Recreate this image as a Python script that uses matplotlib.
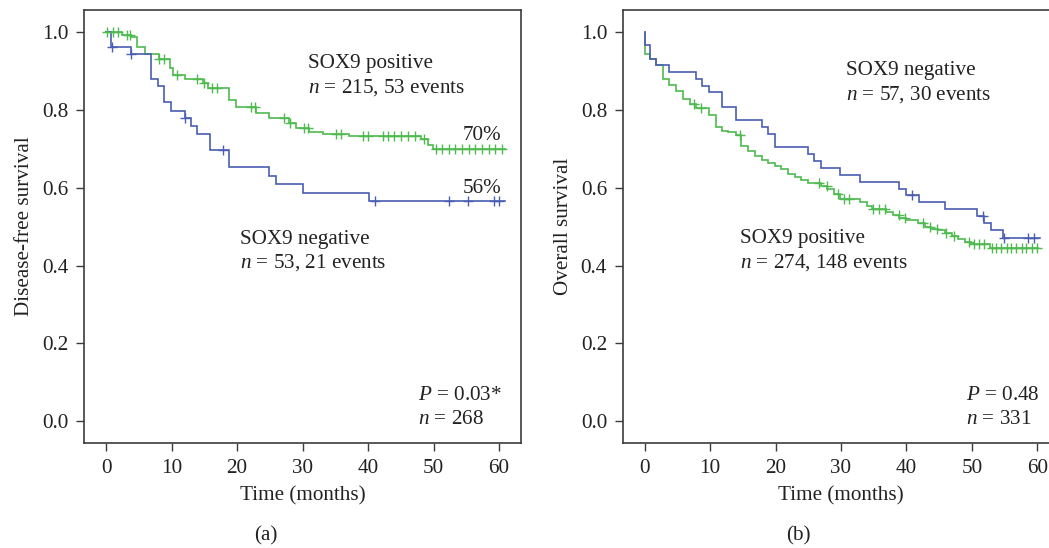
import numpy as np
import matplotlib
matplotlib.use("Agg")
import matplotlib.pyplot as plt

plt.rcParams['font.family'] = ['Liberation Serif', 'DejaVu Serif']
plt.rcParams['mathtext.fontset'] = 'custom'
plt.rcParams['mathtext.rm'] = 'Liberation Serif'
plt.rcParams['mathtext.it'] = 'Liberation Serif:italic'

# ---------------- data: panel (a) disease-free survival ----------------
dfs_neg_t = [0, 0.8, 3.8, 6.9, 7.9, 8.9, 9.9, 12.0, 13.0, 13.9, 15.9, 18.8, 24.9, 26.0, 30.0, 40.2]
dfs_neg_s = [1.0, 0.962, 0.944, 0.880, 0.861, 0.820, 0.797, 0.780, 0.759, 0.737, 0.696, 0.653, 0.630, 0.609, 0.587, 0.566]
dfs_neg_cens = [0.9, 3.8, 12.0, 17.9, 41.1, 52.3, 55.3, 59.3, 60.0]
dfs_neg_end = 60.9

dfs_pos_t = [0, 2.4, 3.8, 4.8, 5.9, 8.1, 9.7, 10.2, 12.0, 14.8, 15.5, 18.8, 19.9, 22.9, 24.9,
             27.9, 29.0, 31.0, 33.1, 37.1, 48.1, 49.1, 49.9]
dfs_pos_s = [1.0, 0.993, 0.987, 0.961, 0.944, 0.929, 0.906, 0.889, 0.880, 0.869, 0.855, 0.826, 0.807, 0.792, 0.780,
             0.766, 0.753, 0.742, 0.738, 0.732, 0.724, 0.709, 0.700]
dfs_pos_cens = [0.2, 1.0, 1.9, 3.2, 3.7, 8.1, 8.9, 10.9, 13.9, 14.9, 16.2, 16.9, 22.1, 22.8, 27.1, 28.1,
                30.2, 30.9, 35.1, 35.9, 39.2, 40.0, 42.3, 43.0, 44.0, 45.0, 46.1, 47.1, 48.6,
                50.3, 51.3, 52.3, 53.3, 54.4, 55.4, 56.4, 57.4, 58.4, 59.4, 60.5]
dfs_pos_end = 60.9

# ---------------- data: panel (b) overall survival ----------------
os_neg_t = [0, 0.05, 0.8, 1.8, 3.8, 7.9, 8.8, 9.8, 11.8, 13.9, 17.9, 18.9, 19.9, 25.0, 25.9, 26.9,
            29.8, 32.9, 38.9, 39.9, 41.9, 45.9, 50.7, 51.9, 52.9, 54.8]
os_neg_s = [1.0, 0.967, 0.931, 0.914, 0.896, 0.878, 0.862, 0.845, 0.808, 0.773, 0.756, 0.738, 0.704, 0.686, 0.668, 0.651,
            0.633, 0.615, 0.597, 0.581, 0.563, 0.545, 0.527, 0.508, 0.490, 0.471]
os_neg_cens = [40.9, 51.7, 54.9, 58.6, 59.5]
os_neg_end = 60.4

os_pos_t = [0, 0.05, 0.8, 1.8, 2.8, 3.8, 4.8, 5.8, 6.9, 7.9, 9.8, 10.9, 11.8, 12.8, 13.9, 14.8, 15.8, 16.8,
            17.9, 18.9, 19.9, 20.9, 21.9, 22.9, 23.9, 24.9, 26.9, 27.9, 28.9, 29.8, 32.9, 33.9, 34.7, 36.9,
            37.9, 38.9, 39.9, 41.8, 42.8, 43.8, 44.8, 45.9, 46.9, 47.9, 48.9, 49.8, 52.8]
os_pos_s = [1.0, 0.944, 0.931, 0.914, 0.880, 0.863, 0.849, 0.828, 0.814, 0.804, 0.787, 0.755, 0.746, 0.742, 0.734,
            0.708, 0.694, 0.681, 0.672, 0.663, 0.656, 0.648, 0.636, 0.627, 0.619, 0.613, 0.605, 0.596, 0.584, 0.572,
            0.563, 0.552, 0.544, 0.538, 0.531, 0.522, 0.517, 0.509, 0.499, 0.495, 0.490, 0.484, 0.477, 0.467,
            0.461, 0.455, 0.446]
os_pos_cens = [7.6, 8.6, 14.6, 26.7, 27.8, 29.6, 30.4, 31.2, 34.9, 35.8, 36.7, 38.8, 39.8, 42.6, 43.6, 44.6,
               46.0, 47.2, 49.5, 50.3, 51.1, 51.8, 53.0, 53.7, 54.5, 55.3, 56.0, 56.8, 57.6, 58.3, 59.1, 59.9]
os_pos_end = 60.1

x_ticks = [0, 10, 20, 30, 40, 50, 60]
y_ticks = [0.0, 0.2, 0.4, 0.6, 0.8, 1.0]

BLUE = '#4a5db3'
GREEN = '#4fba4f'
AX = '#3c3c3c'
TXT = '#222222'
FS = 15.2

W, H = 1049, 548
fig = plt.figure(figsize=(W / 100, H / 100), dpi=100)


def px_axes(x0, x1, y0, y1):
    return fig.add_axes([x0 / W, 1 - y1 / H, (x1 - x0) / W, (y1 - y0) / H])


def km(ax, t, s, cens, end, color):
    t = np.asarray(t, float)
    s = np.asarray(s, float)
    tt = np.append(t, end)
    ss = np.append(s, s[-1])
    ax.step(tt, ss, where='post', color=color, lw=1.2, solid_joinstyle='miter', zorder=3)
    c = np.asarray(cens, float)
    idx = np.searchsorted(t, c, side='right') - 1
    ax.plot(c, s[idx], ls='none', marker='+', ms=7, mew=1.0, color=color, zorder=4)


def style(ax, ylabel):
    ax.set_xlim(-3.3, 63.3)
    ax.set_ylim(-0.0555, 1.056)
    ax.set_xticks(x_ticks)
    ax.set_xticklabels([str(v) for v in x_ticks])
    ax.set_yticks(y_ticks)
    ax.set_yticklabels([f'{v:.1f}' for v in y_ticks])
    for sp in ax.spines.values():
        sp.set_color(AX)
        sp.set_linewidth(1.2)
    ax.tick_params(axis='both', direction='out', length=5.5, width=1.0, color=AX,
                   labelsize=FS, labelcolor=TXT)
    ax.tick_params(axis='y', pad=6)
    ax.tick_params(axis='x', pad=6)
    ax.set_xlabel('Time (months)', fontsize=FS, color=TXT)
    ax.set_ylabel(ylabel, fontsize=FS, color=TXT)
    ax.xaxis.set_label_coords(0.5, -0.101)


# ---------------- panel (a) ----------------
axa = px_axes(84.4, 520.7, 10, 443)
km(axa, dfs_pos_t, dfs_pos_s, dfs_pos_cens, dfs_pos_end, GREEN)
km(axa, dfs_neg_t, dfs_neg_s, dfs_neg_cens, dfs_neg_end, BLUE)
style(axa, 'Disease-free survival')
axa.yaxis.set_label_coords(-0.115, 0.5)

axa.text(30.8, 0.907, 'SOX9 positive', fontsize=FS, color=TXT, va='baseline')
axa.text(30.8, 0.843, r'$\mathit{n}$ = 215, 53 events', fontsize=FS, color=TXT, va='baseline')
axa.text(20.5, 0.456, 'SOX9 negative', fontsize=FS, color=TXT, va='baseline')
axa.text(20.5, 0.396, r'$\mathit{n}$ = 53, 21 events', fontsize=FS, color=TXT, va='baseline')
axa.text(60.3, 0.722, '70%', fontsize=FS, color=TXT, va='baseline', ha='right')
axa.text(60.3, 0.586, '56%', fontsize=FS, color=TXT, va='baseline', ha='right')
axa.text(47.6, 0.054, r'$\mathit{P}$ = 0.03*', fontsize=FS, color=TXT, va='baseline')
axa.text(47.6, -0.008, r'$\mathit{n}$ = 268', fontsize=FS, color=TXT, va='baseline')

# ---------------- panel (b) ----------------
axb = px_axes(623, 1059, 10, 443)
km(axb, os_pos_t, os_pos_s, os_pos_cens, os_pos_end, GREEN)
km(axb, os_neg_t, os_neg_s, os_neg_cens, os_neg_end, BLUE)
style(axb, 'Overall survival')
axb.yaxis.set_label_coords(-0.115, 0.5)

axb.text(30.7, 0.889, 'SOX9 negative', fontsize=FS, color=TXT, va='baseline')
axb.text(30.7, 0.825, r'$\mathit{n}$ = 57, 30 events', fontsize=FS, color=TXT, va='baseline')
axb.text(14.5, 0.458, 'SOX9 positive', fontsize=FS, color=TXT, va='baseline')
axb.text(14.5, 0.394, r'$\mathit{n}$ = 274, 148 events', fontsize=FS, color=TXT, va='baseline')
axb.text(49.1, 0.054, r'$\mathit{P}$ = 0.48', fontsize=FS, color=TXT, va='baseline')
axb.text(49.1, -0.008, r'$\mathit{n}$ = 331', fontsize=FS, color=TXT, va='baseline')

fig.text(266 / W, 1 - 536 / H, '(a)', fontsize=FS, color=TXT, ha='center', va='center')
fig.text(798 / W, 1 - 536 / H, '(b)', fontsize=FS, color=TXT, ha='center', va='center')

fig.savefig('out.png', dpi=100)
